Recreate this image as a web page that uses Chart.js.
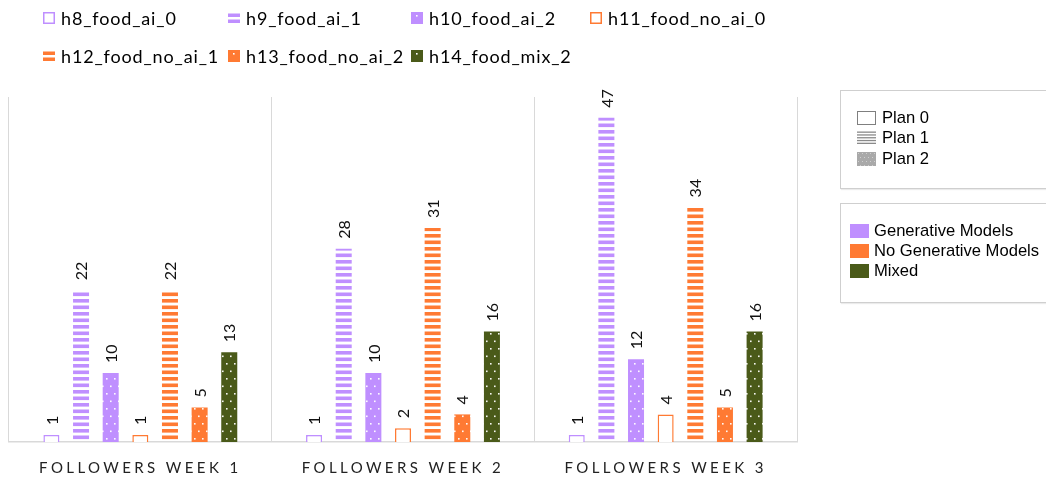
<!DOCTYPE html>
<html>
<head>
<meta charset="utf-8">
<script src="https://cdn.jsdelivr.net/npm/chart.js@4/dist/chart.umd.min.js"></script>
<style>
  html, body { margin: 0; padding: 0; background: #fff; }
  #wrap { position: relative; width: 1046px; height: 483px; overflow: hidden; font-family: Lato, "Open Sans", sans-serif; }
  #chart { position: absolute; left: 0; top: 0; }
  .top-item { position: absolute; display: flex; align-items: center; font-size: 18px; letter-spacing: 0.85px; color: #000; white-space: nowrap; height: 20px; }
  .top-item canvas { margin-right: 6px; }
  .box { position: absolute; left: 840px; width: 230px; border: 1px solid #cfcfcf; box-shadow: 1px 1px 1px rgba(0,0,0,0.08); background: #fff; font-family: "Liberation Sans", Arial, sans-serif; font-size: 16.6px; color: #000; }
  .row { position: absolute; display: flex; align-items: center; white-space: nowrap; height: 20px; }
  .row canvas { margin-right: 6px; }
</style>
</head>
<body>
<div id="wrap">
  <canvas id="chart" width="1046" height="483"></canvas>
  <div id="topLegend"></div>
  <div class="box" id="planBox" style="top:90px;height:97px;"></div>
  <div class="box" id="groupBox" style="top:203px;height:98px;"></div>
</div>
<script>
// Categories and series values
const categories = ['FOLLOWERS WEEK 1', 'FOLLOWERS WEEK 2', 'FOLLOWERS WEEK 3'];
const seriesNames = ['h8_food_ai_0', 'h9_food_ai_1', 'h10_food_ai_2', 'h11_food_no_ai_0', 'h12_food_no_ai_1', 'h13_food_no_ai_2', 'h14_food_mix_2'];
const h8_food_ai_0 = [1, 1, 1];
const h9_food_ai_1 = [22, 28, 47];
const h10_food_ai_2 = [10, 10, 12];
const h11_food_no_ai_0 = [1, 2, 4];
const h12_food_no_ai_1 = [22, 31, 34];
const h13_food_no_ai_2 = [5, 4, 5];
const h14_food_mix_2 = [13, 16, 16];
const seriesValues = [h8_food_ai_0, h9_food_ai_1, h10_food_ai_2, h11_food_no_ai_0, h12_food_no_ai_1, h13_food_no_ai_2, h14_food_mix_2];
// Plan (0 = outline, 1 = stripes, 2 = dots) and group of each series
const seriesPlan = [0, 1, 2, 0, 1, 2, 2];
const seriesGroup = ['ai', 'ai', 'ai', 'noai', 'noai', 'noai', 'mix'];
const planLabels = ['Plan 0', 'Plan 1', 'Plan 2'];
const groupLabels = ['Generative Models', 'No Generative Models', 'Mixed'];
const groupKeys = ['ai', 'noai', 'mix'];

const COLORS = { ai: '#bf8fff', noai: '#ff7a33', mix: '#4a5a19' };

function stripePattern(color) {
  const t = document.createElement('canvas');
  t.width = 8; t.height = 13;
  const c = t.getContext('2d');
  c.fillStyle = color;
  c.fillRect(0, 0, 8, 3.6);
  c.fillRect(0, 6.5, 8, 3.6);
  return c.createPattern(t, 'repeat');
}
function dotPattern(color) {
  const t = document.createElement('canvas');
  t.width = 8; t.height = 15;
  const c = t.getContext('2d');
  c.fillStyle = color;
  c.fillRect(0, 0, 8, 15);
  c.fillStyle = 'rgba(255,255,255,0.95)';
  c.fillRect(2, 3, 1.6, 1.6);
  c.fillRect(6, 10.5, 1.6, 1.6);
  return c.createPattern(t, 'repeat');
}
function fillFor(plan, color) {
  if (plan === 0) return '#ffffff';
  if (plan === 1) return stripePattern(color);
  return dotPattern(color);
}

const datasets = seriesNames.map((name, i) => {
  const color = COLORS[seriesGroup[i]];
  const plan = seriesPlan[i];
  return {
    label: name,
    data: seriesValues[i],
    backgroundColor: fillFor(plan, color),
    borderColor: color,
    borderWidth: plan === 0 ? 1.5 : 0,
    categoryPercentage: 0.79,
    barPercentage: 0.54
  };
});

// Value labels, rotated, above each bar
const valueLabels = {
  id: 'valueLabels',
  beforeDraw(chart) { chart.ctx.letterSpacing = '3.4px'; },
  beforeDatasetsDraw(chart) { chart.ctx.letterSpacing = '0px'; },
  afterDatasetsDraw(chart) {
    const ctx = chart.ctx;
    ctx.save();
    ctx.letterSpacing = '0px';
    ctx.font = '16px Lato, "Open Sans", sans-serif';
    ctx.fillStyle = '#111';
    ctx.textAlign = 'left';
    ctx.textBaseline = 'middle';
    chart.data.datasets.forEach((ds, di) => {
      chart.getDatasetMeta(di).data.forEach((bar, j) => {
        ctx.save();
        ctx.translate(bar.x + 1, bar.y - 10);
        ctx.rotate(-Math.PI / 2);
        ctx.fillText(String(ds.data[j]), 0, 0);
        ctx.restore();
      });
    });
    ctx.restore();
  }
};

new Chart(document.getElementById('chart'), {
  type: 'bar',
  data: { labels: categories, datasets },
  options: {
    responsive: false,
    animation: false,
    layout: { padding: { left: 9, right: 249, top: 97, bottom: 0 } },
    plugins: { legend: { display: false }, tooltip: { enabled: false } },
    scales: {
      x: {
        grid: { color: '#d9d9d9', lineWidth: 1, drawTicks: false, offset: true },
        border: { color: '#d9d9d9', width: 1.5 },
        ticks: { color: '#222', font: { family: 'Lato, "Open Sans", sans-serif', size: 15 }, padding: 17 },
        afterFit(scale) { scale.height = 41; }
      },
      y: { display: false, min: 0, max: 50 }
    }
  },
  plugins: [valueLabels]
});

// Swatch drawing for the legends
function swatch(w, h, draw) {
  const cv = document.createElement('canvas');
  cv.width = w; cv.height = h;
  draw(cv.getContext('2d'), w, h);
  return cv;
}
function seriesSwatch(i) {
  const color = COLORS[seriesGroup[i]];
  const plan = seriesPlan[i];
  return swatch(12, 12, (c, w, h) => {
    if (plan === 0) {
      c.fillStyle = '#fff'; c.fillRect(0, 0, w, h);
      c.strokeStyle = color; c.lineWidth = 1.5; c.strokeRect(0.75, 0.75, w - 1.5, h - 1.5);
    } else if (plan === 1) {
      c.fillStyle = color; c.fillRect(0, 1.5, w, 3.5); c.fillRect(0, 7.5, w, 3.5);
    } else {
      c.fillStyle = color; c.fillRect(0, 0, w, h);
      c.fillStyle = '#fff'; c.fillRect(5, 3, 1.6, 1.6);
    }
  });
}

// Top legend in fixed columns
const topLegend = document.getElementById('topLegend');
const colX = [43, 228, 411, 590];
const rowY = [8, 46];
seriesNames.forEach((name, i) => {
  const el = document.createElement('div');
  el.className = 'top-item';
  const r = i < 4 ? 0 : 1;
  const col = i < 4 ? i : i - 4;
  el.style.left = colX[col] + 'px';
  el.style.top = rowY[r] + 'px';
  el.appendChild(seriesSwatch(i));
  el.appendChild(document.createTextNode(name));
  topLegend.appendChild(el);
});

// Plan legend
const planBox = document.getElementById('planBox');
planLabels.forEach((lab, p) => {
  const el = document.createElement('div');
  el.className = 'row';
  el.style.left = '16px';
  el.style.top = (17 + p * 20.3) + 'px';
  el.appendChild(swatch(19, 14, (c, w, h) => {
    if (p === 0) {
      c.fillStyle = '#fff'; c.fillRect(0, 0, w, h);
      c.strokeStyle = '#7f7f7f'; c.lineWidth = 1; c.strokeRect(0.5, 0.5, w - 1, h - 1);
    } else if (p === 1) {
      c.fillStyle = '#8a8a8a';
      for (let y = 0.5; y < h; y += 2.8) c.fillRect(0, y, w, 1.3);
    } else {
      c.fillStyle = '#a9a9a9'; c.fillRect(0, 0, w, h);
      c.fillStyle = '#cfcfcf';
      for (let y = 1; y < h; y += 4) for (let x = (y % 8 === 1 ? 1 : 3); x < w; x += 4) c.fillRect(x, y, 1, 1);
    }
  }));
  el.appendChild(document.createTextNode(lab));
  planBox.appendChild(el);
});

// Group legend
const groupBox = document.getElementById('groupBox');
groupLabels.forEach((lab, g) => {
  const el = document.createElement('div');
  el.className = 'row';
  el.style.left = '9px';
  el.style.top = (17 + g * 20) + 'px';
  el.appendChild(swatch(19, 14, (c, w, h) => { c.fillStyle = COLORS[groupKeys[g]]; c.fillRect(0, 0, w, h); }));
  el.lastChild.style.marginRight = '5px';
  el.appendChild(document.createTextNode(lab));
  groupBox.appendChild(el);
});
</script>
</body>
</html>
